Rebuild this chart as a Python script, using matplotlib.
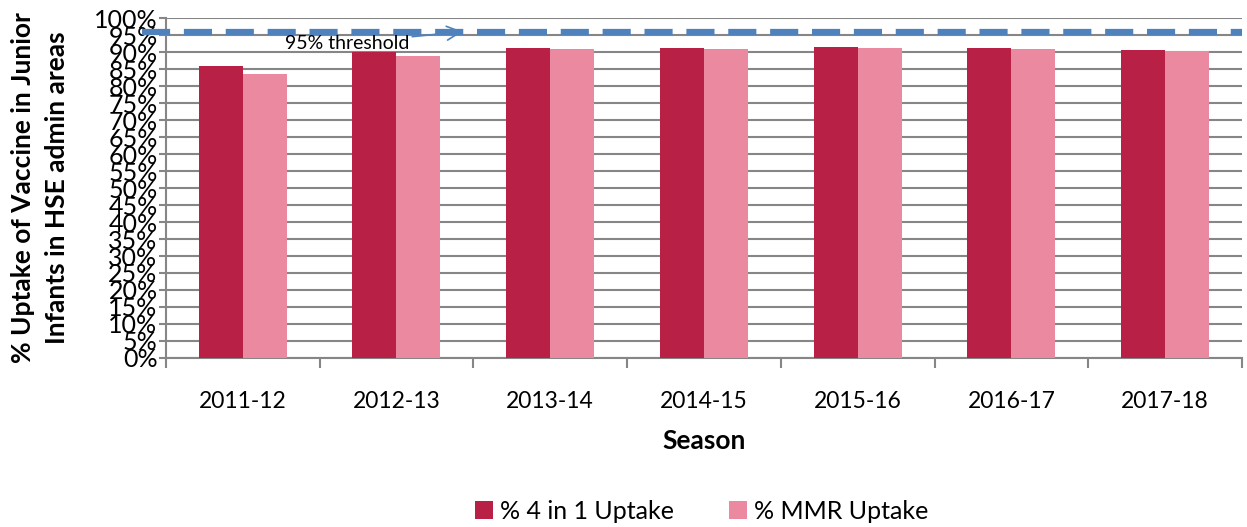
import matplotlib.pyplot as plt
import numpy as np

seasons = ["2011-12", "2012-13", "2013-14", "2014-15", "2015-16", "2016-17", "2017-18"]
uptake_4in1 = [85.9, 90.0, 91.2, 91.2, 91.6, 91.3, 90.7]
uptake_mmr = [83.5, 88.8, 91.0, 91.0, 91.2, 91.0, 90.4]
threshold = 96.0

plt.rcParams["font.family"] = ["Lato", "DejaVu Sans"]

fig = plt.figure(figsize=(12.47, 5.27), dpi=100)
ax = fig.add_axes([0.133, 0.3207, 0.863, 0.6451])

x = np.arange(len(seasons))
w = 0.286
ax.bar(x - w / 2, uptake_4in1, width=w, color="#B82045", label="% 4 in 1 Uptake", zorder=3)
ax.bar(x + w / 2, uptake_mmr, width=w, color="#EA89A0", label="% MMR Uptake", zorder=3)

# threshold line, runs past the axis on the left
ax.axhline(threshold, xmin=-0.022, xmax=1.0, color="#4F81BD", lw=4.5,
           dashes=(4.5, 2.2), clip_on=False, zorder=4)
ax.annotate("95% threshold", xy=(1.43, threshold), xytext=(0.68, 92.6),
            fontsize=14, va="center", ha="center",
            arrowprops=dict(arrowstyle="->", color="#4F81BD", lw=1.2,
                            mutation_scale=25, shrinkA=0, shrinkB=0),
            zorder=5)

ax.set_xlim(-0.5, len(seasons) - 0.5)
ax.set_ylim(0, 100)
ax.set_yticks(np.arange(0, 101, 5))
ax.set_yticklabels([f"{v}%" for v in range(0, 101, 5)], fontsize=18)
ax.yaxis.grid(True, color="#868686", lw=1.5, zorder=0)
ax.set_axisbelow(True)

ax.set_xticks(x)
ax.set_xticklabels(seasons, fontsize=16.5)
ax.set_xticks(np.arange(-0.5, len(seasons), 1), minor=True)
ax.tick_params(axis="x", which="major", length=0, pad=24)
ax.tick_params(axis="x", which="minor", length=7, color="#868686", width=1.5)
ax.tick_params(axis="y", length=5, color="#868686", width=1.5, pad=1)

for s in ["top", "right"]:
    ax.spines[s].set_visible(False)
for s in ["left", "bottom"]:
    ax.spines[s].set_color("#868686")
    ax.spines[s].set_linewidth(1.5)

ax.set_xlabel("Season", fontsize=19, fontweight="bold", labelpad=12)
ax.set_ylabel("% Uptake of Vaccine in Junior\nInfants in HSE admin areas",
              fontsize=19, fontweight="bold", labelpad=18, linespacing=1.5)

fig.legend(loc="lower center", bbox_to_anchor=(0.563, -0.035), ncol=2, frameon=False,
           fontsize=18, handlelength=0.7, handleheight=0.7, handletextpad=0.3,
           columnspacing=2.2)

fig.savefig("out.png", dpi=100)
